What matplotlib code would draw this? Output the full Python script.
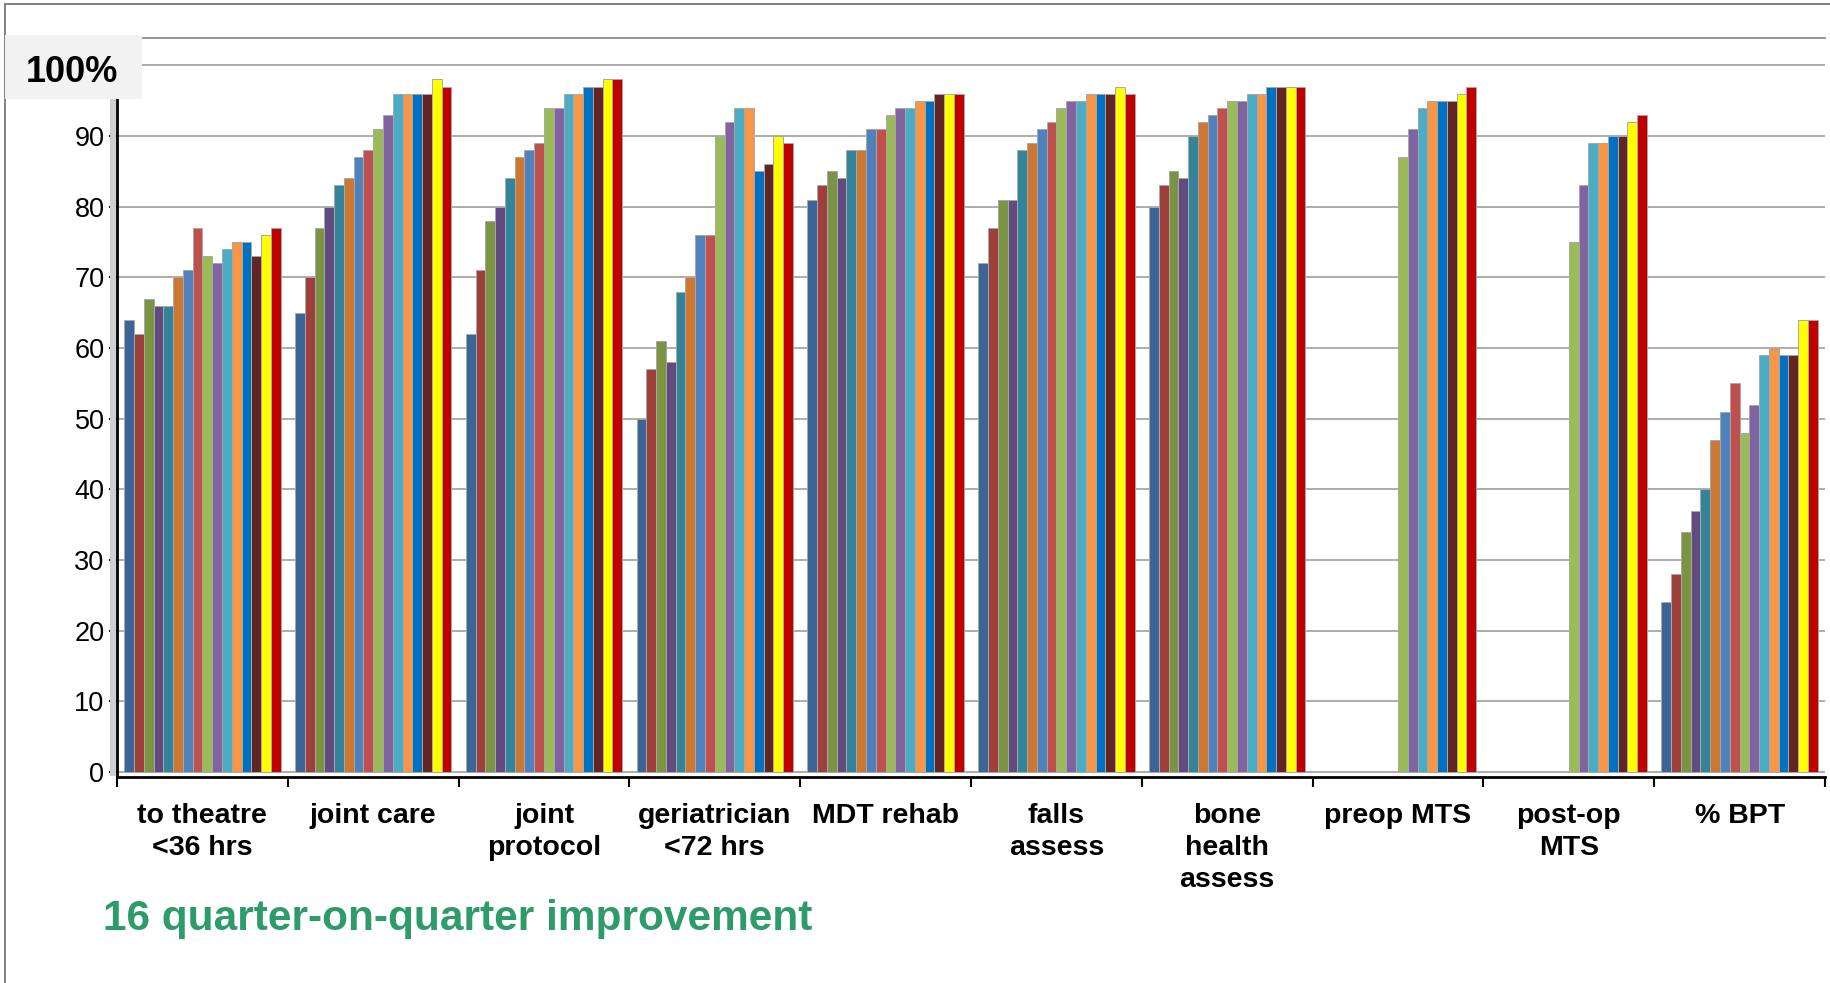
import matplotlib
matplotlib.use("Agg")
import matplotlib.pyplot as plt
import numpy as np
from matplotlib.patches import Rectangle
from matplotlib.lines import Line2D

plt.rcParams["font.family"] = ["Liberation Sans", "DejaVu Sans"]

categories = [
    "to theatre\n<36 hrs", "joint care", "joint\nprotocol", "geriatrician\n<72 hrs",
    "MDT rehab", "falls\nassess", "bone\nhealth\nassess", "preop MTS", "post-op\nMTS", "% BPT",
]

# one value per quarter (16 quarters); nan = not yet measured
to_theatre = [64, 62, 67, 66, 66, 70, 71, 77, 73, 72, 74, 75, 75, 73, 76, 77]
joint_care = [65, 70, 77, 80, 83, 84, 87, 88, 91, 93, 96, 96, 96, 96, 98, 97]
joint_protocol = [62, 71, 78, 80, 84, 87, 88, 89, 94, 94, 96, 96, 97, 97, 98, 98]
geriatrician = [50, 57, 61, 58, 68, 70, 76, 76, 90, 92, 94, 94, 85, 86, 90, 89]
mdt_rehab = [81, 83, 85, 84, 88, 88, 91, 91, 93, 94, 94, 95, 95, 96, 96, 96]
falls_assess = [72, 77, 81, 81, 88, 89, 91, 92, 94, 95, 95, 96, 96, 96, 97, 96]
bone_health = [80, 83, 85, 84, 90, 92, 93, 94, 95, 95, 96, 96, 97, 97, 97, 97]
nan = np.nan
preop_mts = [nan, nan, nan, nan, nan, nan, nan, nan, 87, 91, 94, 95, 95, 95, 96, 97]
postop_mts = [nan, nan, nan, nan, nan, nan, nan, nan, 75, 83, 89, 89, 90, 90, 92, 93]
pct_bpt = [24, 28, 34, 37, 40, 47, 51, 55, 48, 52, 59, 60, 59, 59, 64, 64]

quarter_colors = [
    "#3d6496", "#9e3f3c", "#7a9444", "#614b80", "#348499", "#cc7733",
    "#4f81bd", "#c0504d", "#9bbb59", "#8064a2", "#4bacc6", "#f79646",
    "#0070c0", "#632523", "#ffff00", "#c00000",
]

values = np.array([to_theatre, joint_care, joint_protocol, geriatrician, mdt_rehab,
                   falls_assess, bone_health, preop_mts, postop_mts, pct_bpt], dtype=float)

W, H = 1831, 983
fig = plt.figure(figsize=(W / 100, H / 100), dpi=100)
fig.patch.set_facecolor("white")


def px(x, y):
    return x / W, 1 - y / H


left, top = px(117, 37.8)
right, bottom = px(1825, 777)
ax = fig.add_axes([left, bottom, right - left, top - bottom])

n_cat, n_q = len(categories), len(quarter_colors)
bar_w = 0.916 / n_q
x = np.arange(n_cat)
for q in range(n_q):
    offs = (q - (n_q - 1) / 2) * bar_w
    ax.bar(x + offs, values[:, q], width=bar_w, color=quarter_colors[q],
           edgecolor="#a8a8a8", linewidth=0.7, zorder=3)

ax.set_xlim(-0.5, n_cat - 0.5)
ax.set_ylim(-0.7, 103.9)
for g in range(0, 101, 10):
    ax.axhline(g, color="#a6a6a6", lw=1.3, zorder=1)

ax.set_yticks(range(0, 91, 10))
ax.tick_params(axis="y", direction="out", length=6, width=1.5, pad=3, labelsize=19.5)

ax.set_xticks(x)
ax.set_xticklabels(categories, fontsize=20.5, fontweight="bold", linespacing=1.28, va="top")
ax.tick_params(axis="x", which="major", length=0, pad=19)
ax.set_xticks(np.arange(-0.5, n_cat, 1), minor=True)
ax.tick_params(axis="x", which="minor", direction="out", length=7, width=1.5)

for s in ["left", "bottom"]:
    ax.spines[s].set_color("black")
    ax.spines[s].set_linewidth(2)
ax.spines["right"].set_visible(False)
ax.spines["top"].set_color("#8c8c8c")
ax.spines["top"].set_linewidth(1.3)

# light shadow to the left of the value axis
sx0, sy0 = px(110, 776)
sx1, sy1 = px(116, 98)
fig.patches.append(Rectangle((sx0, sy0), sx1 - sx0, sy1 - sy0, transform=fig.transFigure,
                             facecolor="#cfcfcf", edgecolor="none", zorder=0))

# outer frame (top and left edges)
fig.lines.append(Line2D([5 / W, 5 / W], [1 - 4 / H, 0], transform=fig.transFigure,
                        color="#808080", lw=1.4))
fig.lines.append(Line2D([5 / W, 1], [1 - 4 / H, 1 - 4 / H], transform=fig.transFigure,
                        color="#808080", lw=1.4))

# "100%" header box
bx0, by0 = px(5, 99)
bx1, by1 = px(142, 35)
fig.patches.append(Rectangle((bx0, by0), bx1 - bx0, by1 - by0, transform=fig.transFigure,
                             facecolor="#f2f2f2", edgecolor="none", zorder=5))
tx, ty = px(72, 72)
fig.text(tx, ty, "100%", fontsize=26, fontweight="bold", ha="center", va="center", zorder=6)

gx, gy = px(103, 919)
fig.text(gx, gy, "16 quarter-on-quarter improvement", fontsize=30.5, fontweight="bold",
         color="#2e9b6a", ha="left", va="center")

fig.savefig("out.png", dpi=100, facecolor="white")
